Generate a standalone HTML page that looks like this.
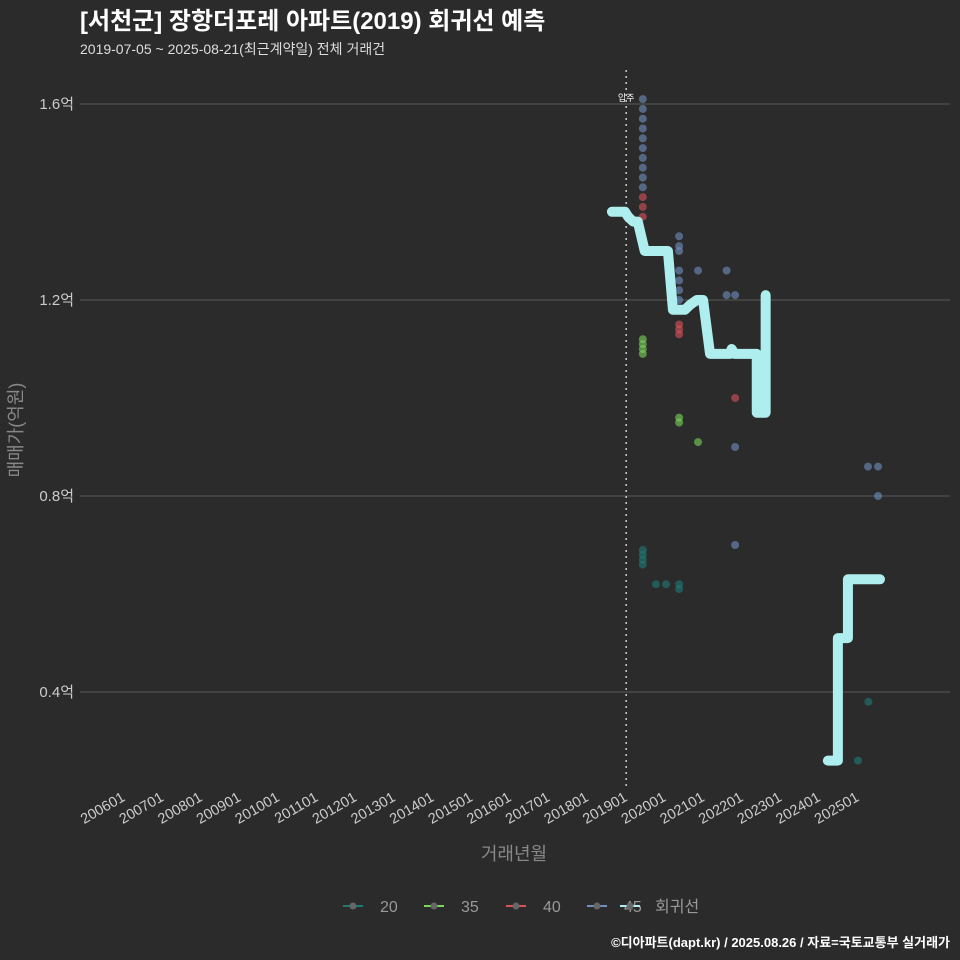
<!DOCTYPE html>
<html><head><meta charset="utf-8"><style>
html,body{margin:0;background:#2b2b2b;width:960px;height:960px;overflow:hidden;font-family:"Liberation Sans","Noto Sans CJK KR",sans-serif}
svg{display:block}
</style></head><body>
<svg id="c" width="960" height="960" xmlns="http://www.w3.org/2000/svg" font-family="Liberation Sans,Noto Sans CJK KR,sans-serif">
<rect width="960" height="960" fill="#2b2b2b"/>
<text x="80" y="29" fill="#fff" font-size="24" font-weight="bold">[서천군] 장항더포레 아파트(2019) 회귀선 예측</text>
<text x="80" y="54" fill="#ddd" font-size="14">2019-07-05 ~ 2025-08-21(최근계약일) 전체 거래건</text>
<g id="grid"></g><g id="marks"></g>
<text transform="translate(22,430) rotate(-90)" text-anchor="middle" fill="#888" font-size="18">매매가(억원)</text>
<text x="514" y="860" text-anchor="middle" fill="#888" font-size="18">거래년월</text>
<g id="legend"></g>
<text x="950" y="947" text-anchor="end" fill="#fff" font-size="13" font-weight="bold">©디아파트(dapt.kr) / 2025.08.26 / 자료=국토교통부 실거래가</text>
</svg>
<script>
const yTicks=[0.4,0.8,1.2,1.6];
const xTickYears=[2006,2007,2008,2009,2010,2011,2012,2013,2014,2015,2016,2017,2018,2019,2020,2021,2022,2023,2024,2025];
const s20=[[2019.43,0.69],[2019.43,0.68],[2019.43,0.67],[2019.43,0.66],[2019.77,0.62],[2020.03,0.62],[2020.37,0.62],[2020.37,0.61],[2025.27,0.38],[2025.0,0.26]];
const s35=[[2019.43,1.12],[2019.43,1.11],[2019.43,1.10],[2019.43,1.09],[2020.37,0.96],[2020.37,0.95],[2020.86,0.91]];
const s40=[[2019.43,1.41],[2019.43,1.39],[2019.43,1.37],[2020.37,1.15],[2020.37,1.14],[2020.37,1.13],[2021.82,1.00]];
const s45=[[2019.43,1.61],[2019.43,1.59],[2019.43,1.57],[2019.43,1.55],[2019.43,1.53],[2019.43,1.51],[2019.43,1.49],[2019.43,1.47],[2019.43,1.45],[2019.43,1.43],[2020.37,1.33],[2020.37,1.31],[2020.37,1.30],[2020.37,1.26],[2020.37,1.24],[2020.37,1.22],[2020.37,1.20],[2020.86,1.26],[2021.6,1.26],[2021.6,1.21],[2021.82,1.21],[2021.82,0.90],[2021.82,0.70],[2025.26,0.86],[2025.52,0.86],[2025.52,0.80]];
const reg1X=[2018.63,2018.97,2019.05,2019.18,2019.3,2019.48,2020.08,2020.21,2020.52,2020.65,2020.83,2020.99,2021.17,2021.68,2021.73,2021.81,2022.38,2022.38,2022.61,2022.61];
const reg1Y=[1.38,1.38,1.37,1.36,1.36,1.30,1.30,1.18,1.18,1.19,1.20,1.20,1.09,1.09,1.10,1.09,1.09,0.97,0.97,1.21];
const reg2X=[2024.22,2024.48,2024.48,2024.74,2024.74,2025.57];
const reg2Y=[0.26,0.26,0.51,0.51,0.63,0.63];
const X=yr=>124+(yr-2006)*38.63, Y=v=>104+(1.6-v)*490;
const NS='http://www.w3.org/2000/svg';
function mk(t,a,p){const e=document.createElementNS(NS,t);for(const k in a)e.setAttribute(k,a[k]);p.appendChild(e);return e;}
const g=document.getElementById('grid'),m=document.getElementById('marks'),lg=document.getElementById('legend');
yTicks.forEach(v=>{const l=mk('line',{x1:80,x2:950,y1:Y(v),y2:Y(v),stroke:'#5a5a5a','stroke-width':1},g);

const t=mk('text',{x:74,y:Y(v)+5,'text-anchor':'end',fill:'#ccc','font-size':15},g);t.textContent=v.toFixed(1)+'억';
});
xTickYears.forEach(yr=>{const x=X(yr)+2;const t=mk('text',{x:x,y:800,'text-anchor':'end',fill:'#ccc','font-size':14.5,transform:`rotate(-30 ${x} 800)`},g);
t.textContent=yr+'01';});
const vl=mk('line',{x1:X(2019.0),x2:X(2019.0),y1:70,y2:790,stroke:'#ccc','stroke-width':1.5,'stroke-dasharray':'2 4'},g);

const vt=mk('text',{x:X(2019.0),y:101,'text-anchor':'middle',fill:'#fff','font-size':9},g);vt.textContent='입주';

const series=[[s20,'#1f7a74','20'],[s35,'#7cd65a','35'],[s40,'#d9525a','40'],[s45,'#6f8fbf','45']];
series.forEach(([d,c,n])=>d.forEach(p=>{const e=mk('circle',{cx:X(p[0]),cy:Y(p[1]),r:4,fill:c,'fill-opacity':0.6},m);
}));
[[reg1X,reg1Y],[reg2X,reg2Y]].forEach(([xs,ys])=>{
const pl=mk('polyline',{points:xs.map((x,i)=>X(x)+','+Y(ys[i])).join(' '),fill:'none',stroke:'#aeeeee','stroke-width':10,'stroke-linecap':'round','stroke-linejoin':'round'},m);
});
const leg=[['20','#1f7a74',343],['35','#7cd65a',424],['40','#d9525a',506],['45','#6f8fbf',587],['회귀선','#aeeeee',620]];
leg.forEach(([n,c,xx],i)=>{const gg=mk('g',{},lg);


mk('line',{x1:xx,x2:xx+20,y1:906,y2:906,stroke:c,'stroke-width':2},gg);
mk('circle',{cx:xx+10,cy:906,r:3.5,fill:'#666'},gg);
const t=mk('text',{x:xx+(i==4?35:37),y:912,fill:'#999','font-size':16},gg);t.textContent=n;});
</script>
</body></html>
